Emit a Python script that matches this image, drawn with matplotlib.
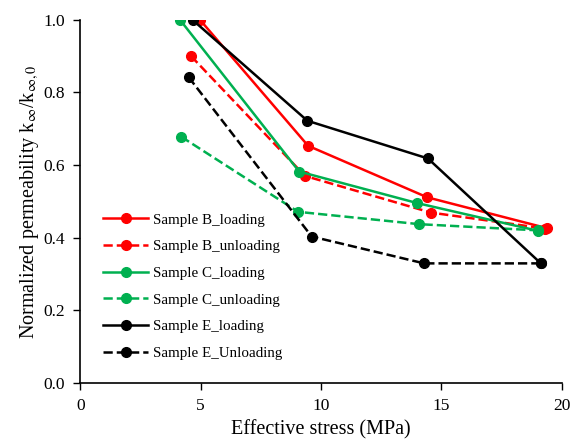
import numpy as np
import matplotlib.pyplot as plt

plt.rcParams['font.family'] = ['Liberation Serif', 'DejaVu Serif']
plt.rcParams['mathtext.fontset'] = 'stix'

# data
b_load_x = [4.97, 9.46, 14.41, 19.38]
b_load_y = [1.0, 0.653, 0.511, 0.426]
b_unload_x = [4.6, 9.33, 14.56, 19.3]
b_unload_y = [0.90, 0.57, 0.469, 0.425]
c_load_x = [4.14, 9.09, 14.0, 18.99]
c_load_y = [1.0, 0.582, 0.495, 0.419]
c_unload_x = [4.19, 9.05, 14.08, 18.99]
c_unload_y = [0.678, 0.471, 0.437, 0.42]
e_load_x = [4.66, 9.43, 14.44, 19.13]
e_load_y = [1.0, 0.722, 0.618, 0.329]
e_unload_x = [4.5, 9.61, 14.28, 19.13]
e_unload_y = [0.842, 0.403, 0.329, 0.329]

red = '#ff0000'
green = '#00b050'
black = '#000000'

fig = plt.figure(figsize=(5.78, 4.41), dpi=100)
ax = fig.add_axes([0.139, 0.132, 0.833, 0.823])

kw = dict(marker='o', markersize=7, linewidth=1.8)
ax.plot(b_load_x, b_load_y, color=red, label='Sample B_loading', **kw)
ax.plot(b_unload_x, b_unload_y, color=red, linestyle='--', label='Sample B_unloading', **kw)
ax.plot(c_load_x, c_load_y, color=green, label='Sample C_loading', **kw)
ax.plot(c_unload_x, c_unload_y, color=green, linestyle='--', label='Sample C_unloading', **kw)
ax.plot(e_load_x, e_load_y, color=black, label='Sample E_loading', **kw)
ax.plot(e_unload_x, e_unload_y, color=black, linestyle='--', label='Sample E_Unloading', **kw)

ax.set_xlim(0, 20)
ax.set_ylim(0, 1.0)
ax.set_xticks([0, 5, 10, 15, 20])
ax.set_yticks(np.arange(0, 1.01, 0.2))
ax.set_yticklabels([f'{v:.1f}' for v in np.arange(0, 1.01, 0.2)])
ax.tick_params(direction='out', length=5, labelsize=12.5, width=1, pad=6)
ax.spines['top'].set_visible(False)
ax.spines['right'].set_visible(False)
ax.spines['left'].set_linewidth(1.2)
ax.spines['bottom'].set_linewidth(1.2)

ax.set_xlabel('Effective stress (MPa)', fontsize=14.5, labelpad=4)
ax.set_ylabel(r'Normalized permeability k$_{\infty}$/k$_{\infty,0}$', fontsize=14.5, labelpad=2)

ax.legend(loc='upper left', bbox_to_anchor=(0.02, 0.505), frameon=False, fontsize=10.8,
          handlelength=3.0, labelspacing=0.88, handletextpad=0.3)

fig.savefig('out.png', dpi=100)
